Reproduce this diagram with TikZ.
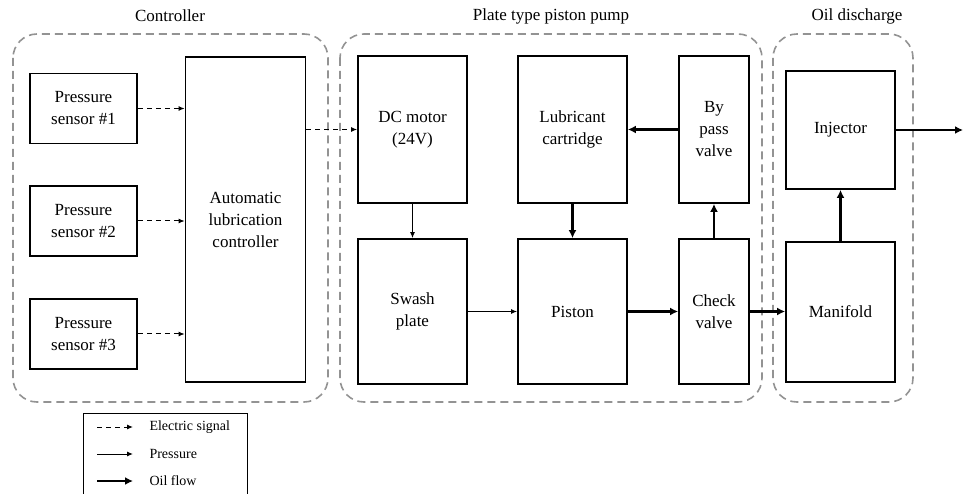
\documentclass[tikz,border=0pt]{standalone}
\usepackage{fontspec}
\setmainfont{Liberation Serif}
\usetikzlibrary{arrows.meta}
\begin{document}
\begin{tikzpicture}[x=1pt,y=-1pt,
  blk/.style={draw,line width=1.8pt,inner sep=0pt},
  txt/.style={align=center,inner sep=1pt,font=\fontsize{17}{22}\selectfont},
  grp/.style={draw=gray!85,line width=1.6pt,dash pattern=on 8pt off 5pt,rounded corners=24pt},
  esig/.style={line width=1pt,dash pattern=on 5pt off 4pt,-{Latex[length=6pt,width=5pt]}},
  pres/.style={line width=1pt,-{Latex[length=6pt,width=5pt]}},
  oilf/.style={line width=2.4pt,-{Latex[length=8pt,width=8pt]}},
  leg/.style={font=\fontsize{14}{16}\selectfont,anchor=west}]
\useasboundingbox (0,0) rectangle (964,494);
% groups
\draw[grp] (13,34) rectangle (328,402);
\draw[grp] (340,34) rectangle (762,402);
\draw[grp] (773,34) rectangle (913,402);
\node[txt] (tc) at (170,16) {Controller};
\node[txt] (tp) at (551,16) {Plate type piston pump};
\node[txt] (to) at (857,16) {Oil discharge};
% blocks
\node[blk,minimum width=107pt,minimum height=70pt] (s1) at (83.5,108.5) {};
\node[blk,minimum width=107pt,minimum height=70pt] (s2) at (83.5,221) {};
\node[blk,minimum width=107pt,minimum height=70pt] (s3) at (83.5,334) {};
\node[blk,minimum width=120pt,minimum height=325pt] (alc) at (245.5,219.5) {};
\node[blk,minimum width=109pt,minimum height=147pt] (dc) at (412.5,129.5) {};
\node[blk,minimum width=109pt,minimum height=145pt] (sw) at (412.5,311.5) {};
\node[blk,minimum width=109pt,minimum height=147pt] (lc) at (572.5,129.5) {};
\node[blk,minimum width=109pt,minimum height=145pt] (pi) at (572.5,311.5) {};
\node[blk,minimum width=70pt,minimum height=147pt] (bp) at (714,129.5) {};
\node[blk,minimum width=70pt,minimum height=145pt] (cv) at (714,311.5) {};
\node[blk,minimum width=109pt,minimum height=118pt] (inj) at (840.5,130) {};
\node[blk,minimum width=109pt,minimum height=140pt] (man) at (840.5,312) {};
% block texts
\node[txt] (s1t) at (s1) {Pressure\\sensor \#1};
\node[txt] (s2t) at (s2) {Pressure\\sensor \#2};
\node[txt] (s3t) at (s3) {Pressure\\sensor \#3};
\node[txt] (alct) at (alc) {Automatic\\lubrication\\controller};
\node[txt] (dct) at (dc) {DC motor\\(24V)};
\node[txt] (swt) at (sw) {Swash\\plate};
\node[txt] (lct) at (lc) {Lubricant\\cartridge};
\node[txt] (pit) at (pi) {Piston};
\node[txt] (bpt) at (bp) {By\\pass\\valve};
\node[txt] (cvt) at (cv) {Check\\valve};
\node[txt] (injt) at (inj) {Injector};
\node[txt] (mant) at (man) {Manifold};
% connectors
\draw[esig] (s1.east) -- (s1.east -| alc.west);
\draw[esig] (s2.east) -- (s2.east -| alc.west);
\draw[esig] (s3.east) -- (s3.east -| alc.west);
\draw[esig] (alc.east |- dc.west) -- (dc.west);
\draw[pres] (dc.south) -- (sw.north);
\draw[pres] (sw.east) -- (pi.west);
\draw[oilf] (pi.east) -- (cv.west);
\draw[oilf] (cv.east) -- (cv.east -| man.west);
\draw[oilf] (lc.south) -- (pi.north);
\draw[oilf] (cv.north) -- (bp.south);
\draw[oilf] (bp.west) -- (lc.east);
\draw[oilf] (man.north) -- (inj.south);
\coordinate (out) at (963,130);
\draw[oilf] (inj.east) -- (out);
% legend
\draw[line width=1pt] (83,494) -- (83,413) -- (247,413) -- (247,494);
\coordinate (la1) at (97,427); \coordinate (lb1) at (133,427);
\coordinate (la2) at (97,454); \coordinate (lb2) at (133,454);
\coordinate (la3) at (97,481); \coordinate (lb3) at (133,481);
\draw[esig] (la1) -- (lb1);
\draw[pres] (la2) -- (lb2);
\draw[oilf] (la3) -- (lb3);
\node[leg] (l1) at (146,427) {Electric signal};
\node[leg] (l2) at (146,454) {Pressure};
\node[leg] (l3) at (146,481) {Oil flow};
\end{tikzpicture}
\end{document}
